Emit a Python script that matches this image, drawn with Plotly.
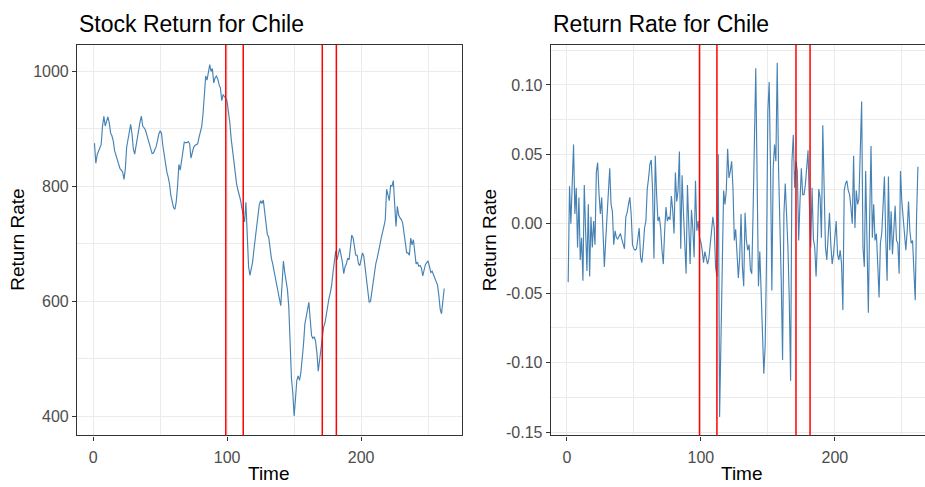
import plotly.graph_objects as go

# ---------------- data ----------------
time = list(range(1, 263))

price = [
    875, 840, 855, 862, 868, 873, 905, 922, 905, 913,
    921, 911, 893, 888, 879, 862, 853, 848, 835, 831,
    828, 825, 812, 830, 868, 882, 895, 908, 891, 865,
    856, 870, 888, 896, 912, 922, 905, 902, 898, 890,
    881, 870, 862, 857, 858, 863, 869, 879, 891, 896,
    893, 871, 853, 837, 825, 816, 804, 784, 773, 763,
    760, 773, 800, 838, 828, 848, 868, 877, 876, 876,
    878, 874, 849, 860, 868, 871, 872, 874, 885, 897,
    904, 926, 960, 992, 985, 998, 1012, 1000, 1005, 980,
    989, 992, 987, 977, 971, 949, 960, 956, 953, 947,
    931, 911, 883, 861, 845, 824, 805, 794, 786, 776,
    762, 750, 738, 772, 722, 660, 645, 655, 668, 690,
    712, 730, 748, 768, 775, 770, 776, 755, 728, 716,
    712, 690, 675, 665, 652, 642, 628, 615, 600, 592,
    630, 670, 650, 632, 620, 590, 520, 466, 440, 400,
    430, 462, 470, 462, 475, 495, 525, 560, 575, 590,
    598, 568, 540, 535, 538, 530, 510, 478, 500, 520,
    540, 555, 562, 578, 595, 605, 615, 628, 650, 675,
    687, 672, 682, 692, 680, 668, 648, 660, 665, 675,
    672, 700, 715, 710, 692, 680, 680, 665, 662, 675,
    684, 678, 660, 640, 618, 598, 600, 618, 635, 655,
    666, 675, 690, 698, 710, 718, 730, 742, 795, 785,
    775, 802, 800, 810, 775, 730, 765, 750, 745, 742,
    736, 715, 698, 684, 684, 680, 710, 698, 707, 682,
    665, 668, 661, 662, 658, 644, 655, 664, 667, 670,
    660, 650, 652, 645, 638, 632, 628, 610, 586, 578,
    605, 622,
]

returns = [
    -0.042, 0.027, 0.000, 0.031, 0.057, 0.007, 0.026, -0.017, 0.019, -0.026,
    -0.010, -0.041, 0.028, -0.005, -0.034, 0.014, -0.038, 0.005, -0.017, 0.002,
    -0.015, 0.037, 0.044, 0.022, 0.007, 0.019, -0.005, -0.031, -0.012, 0.005,
    0.018, 0.040, 0.014, 0.009, -0.015, -0.005, -0.010, -0.011, -0.009, -0.007,
    -0.011, -0.015, -0.018, 0.005, 0.008, 0.014, 0.019, 0.007, -0.015, -0.018,
    -0.019, -0.018, -0.010, -0.003, -0.024, -0.028, -0.017, -0.003, 0.002, 0.025,
    0.033, 0.043, 0.046, 0.024, -0.025, 0.049, 0.021, 0.002, 0.005, -0.003,
    -0.019, -0.029, -0.005, 0.012, 0.002, 0.005, 0.003, 0.020, 0.010, -0.007,
    0.037, 0.016, 0.024, 0.052, -0.018, 0.035, 0.009, -0.011, -0.036, 0.028,
    -0.003, -0.029, 0.010, -0.003, -0.024, 0.031, -0.005, 0.002, -0.010, -0.013,
    -0.019, -0.028, -0.020, -0.024, -0.029, -0.025, -0.015, -0.007, 0.005, -0.003,
    -0.031, -0.038, 0.050, -0.139, -0.076, -0.019, 0.024, 0.014, 0.024, 0.054,
    0.033, 0.038, 0.045, 0.025, -0.012, -0.004, -0.024, -0.039, -0.024, 0.007,
    -0.031, -0.045, 0.008, -0.012, -0.019, -0.015, -0.033, -0.036, 0.009, 0.066,
    0.112, 0.033, -0.045, -0.020, -0.048, -0.085, -0.108, -0.088, -0.026, 0.081,
    0.102, 0.040, -0.048, 0.040, 0.057, 0.045, 0.116, 0.040, 0.002, -0.041,
    -0.098, 0.007, 0.029, 0.007, -0.017, -0.055, -0.113, 0.045, 0.064, 0.026,
    0.045, 0.038, -0.012, 0.016, 0.040, 0.021, 0.021, 0.028, 0.038, 0.053,
    0.014, -0.017, 0.026, -0.011, -0.017, -0.038, -0.012, 0.025, 0.019, -0.010,
    0.071, 0.024, -0.017, -0.026, -0.007, 0.008, -0.015, -0.029, -0.022, -0.010,
    0.002, -0.022, -0.026, -0.019, -0.029, -0.062, 0.024, 0.029, 0.031, 0.024,
    0.021, 0.012, 0.000, 0.049, -0.003, 0.024, 0.014, 0.018, 0.049, 0.088,
    -0.017, -0.031, 0.038, -0.024, -0.064, 0.005, 0.056, -0.010, 0.014, -0.012,
    -0.007, -0.029, -0.053, -0.014, -0.007, 0.013, 0.034, -0.010, -0.041, 0.034,
    -0.019, 0.009, -0.022, -0.005, 0.013, -0.012, -0.014, -0.036, 0.038, 0.016,
    0.005, -0.012, -0.019, -0.005, 0.016, -0.005, -0.014, -0.012, -0.031, -0.055,
    0.005, 0.041,
]

break_points = [99, 112, 171, 181.5]

left_title = "Stock Return for Chile"
right_title = "Return Rate for Chile"
x_title = "Time"
y_title = "Return Rate"

x_ticks = [0, 100, 200]
x_tick_text = ["0", "100", "200"]
price_ticks = [400, 600, 800, 1000]
price_tick_text = ["400", "600", "800", "1000"]
ret_ticks = [-0.15, -0.10, -0.05, 0.00, 0.05, 0.10]
ret_tick_text = ["-0.15", "-0.10", "-0.05", "0.00", "0.05", "0.10"]

# ---------------- layout geometry (pixels) ----------------
W, H = 925, 487
FONT = "Liberation Sans, Arial, sans-serif"
L1, R1 = 77.0, 461.7
L2, R2 = 550.7, 925.0
TOP, BOT = 45.5, 440.0
PX_PER_UNIT = (R1 - L1) / 287.1
X0 = -12.05


def fx(p):
    return p / W


def fy(p):
    return 1 - p / H


fig = go.Figure()

fig.add_trace(go.Scatter(
    x=time, y=price, mode="lines",
    line=dict(color="#4682B4", width=1.15),
    xaxis="x", yaxis="y", hoverinfo="skip", showlegend=False,
))
fig.add_trace(go.Scatter(
    x=time, y=returns, mode="lines",
    line=dict(color="#4682B4", width=1.15),
    xaxis="x2", yaxis="y2", hoverinfo="skip", showlegend=False,
))

shapes = []
for b in break_points:
    for xr, yr in (("x", "y domain"), ("x2", "y2 domain")):
        shapes.append(dict(
            type="line", xref=xr, yref=yr, x0=b, x1=b, y0=0, y1=1,
            line=dict(color="#FF0000", width=1.5), layer="above",
        ))

axis_common = dict(
    showline=True, linecolor="#333333", linewidth=1.1,
    ticks="outside", ticklen=4, tickwidth=1.1, tickcolor="#333333",
    tickfont=dict(size=16, color="#4D4D4D", family=FONT),
    showgrid=True, gridcolor="#EBEBEB", gridwidth=1.4,
    zeroline=False, fixedrange=True, tickmode="array",
)

ydom = [fy(BOT), fy(TOP)]

fig.update_layout(
    width=W, height=H,
    margin=dict(l=0, r=0, t=0, b=0),
    paper_bgcolor="white", plot_bgcolor="white",
    font=dict(family=FONT),
    xaxis=dict(
        axis_common, domain=[fx(L1), fx(R1)], anchor="y", mirror=True,
        range=[X0, X0 + (R1 - L1) / PX_PER_UNIT],
        tickvals=x_ticks, ticktext=x_tick_text, ticklabelstandoff=3,
        minor=dict(tickmode="linear", tick0=0, dtick=50, showgrid=True,
                   gridcolor="#EBEBEB", gridwidth=0.8, ticks=""),
    ),
    yaxis=dict(
        axis_common, domain=ydom, anchor="x", mirror=True,
        range=[366.1, 1046.0],
        tickvals=price_ticks, ticktext=price_tick_text,
        minor=dict(tickmode="linear", tick0=0, dtick=100, showgrid=True,
                   gridcolor="#EBEBEB", gridwidth=0.8, ticks=""),
    ),
    xaxis2=dict(
        axis_common, domain=[fx(L2), 1.0], anchor="y2", mirror=True,
        range=[X0, X0 + (R2 - L2) / PX_PER_UNIT],
        tickvals=x_ticks, ticktext=x_tick_text, ticklabelstandoff=3,
        minor=dict(tickmode="linear", tick0=0, dtick=50, showgrid=True,
                   gridcolor="#EBEBEB", gridwidth=0.8, ticks=""),
    ),
    yaxis2=dict(
        axis_common, domain=ydom, anchor="x2", mirror=False,
        range=[-0.1524, 0.1287],
        tickvals=ret_ticks, ticktext=ret_tick_text,
        minor=dict(tickmode="linear", tick0=0, dtick=0.025, showgrid=True,
                   gridcolor="#EBEBEB", gridwidth=0.8, ticks=""),
    ),
    shapes=shapes,
)

ann = []
for text, xl in ((left_title, L1), (right_title, L2)):
    ann.append(dict(text=text, x=fx(xl), y=fy(24), xref="paper", yref="paper",
                    xanchor="left", yanchor="middle", showarrow=False,
                    font=dict(size=23, color="black", family=FONT)))
for xc in ((L1 + R1) / 2, 742.0):
    ann.append(dict(text=x_title, x=fx(xc), y=fy(478), xref="paper", yref="paper",
                    xanchor="center", yanchor="middle", showarrow=False,
                    font=dict(size=19, color="black", family=FONT)))
for xc in (17.5, 489.0):
    ann.append(dict(text=y_title, x=fx(xc), y=fy((TOP + BOT) / 2), xref="paper",
                    yref="paper", xanchor="center", yanchor="middle",
                    textangle=-90, showarrow=False,
                    font=dict(size=19, color="black", family=FONT)))
fig.update_layout(annotations=ann)

fig.write_html("out.html")
